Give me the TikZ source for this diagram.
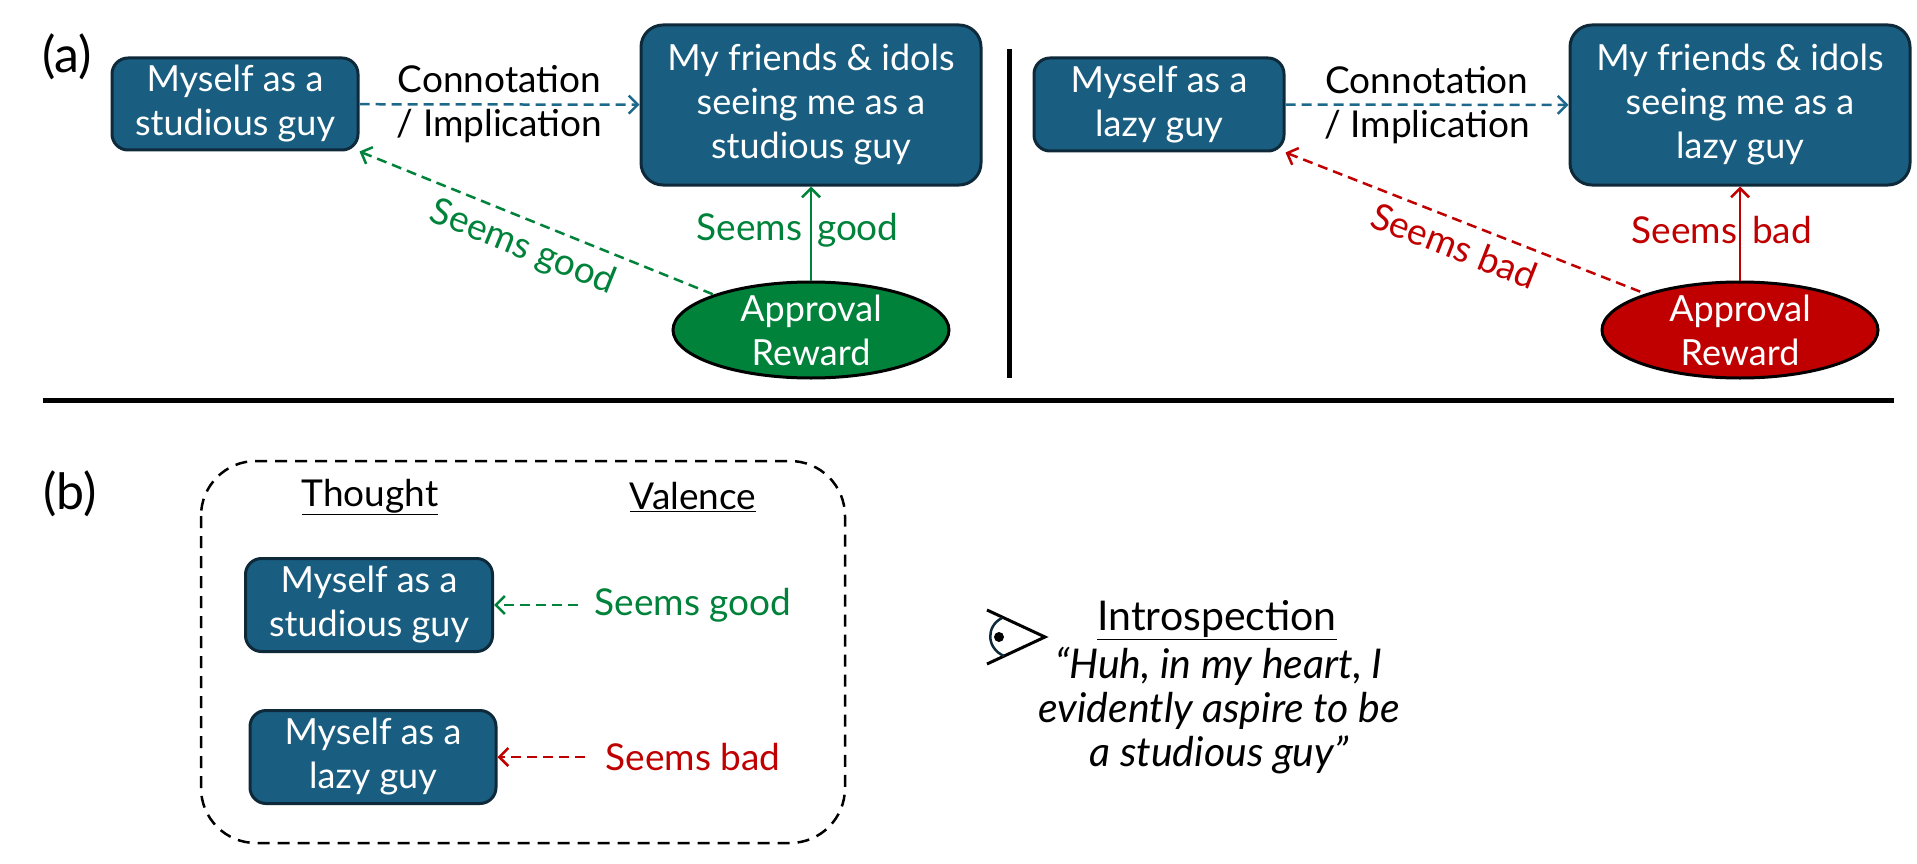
\documentclass[tikz,border=0pt]{standalone}
\usepackage{fontspec}
\setmainfont{Lato}
\usetikzlibrary{shapes.geometric,arrows.meta}

\definecolor{boxblue}{RGB}{25,94,128}
\definecolor{boxedge}{RGB}{14,42,58}
\definecolor{linkblue}{RGB}{30,104,140}
\definecolor{goodgreen}{RGB}{0,130,58}
\definecolor{badred}{RGB}{192,0,0}

\newcommand{\boxfont}{\fontsize{36}{44}\selectfont}
\newcommand{\labelfont}{\fontsize{37}{44}\selectfont}
\newcommand{\quotefont}{\fontsize{41}{44}\selectfont}
\newcommand{\tagfont}{\fontsize{50}{56}\selectfont}

\begin{document}
\begin{tikzpicture}[x=1pt,y=-1pt,
   thought/.style={draw=boxedge,line width=3pt,fill=boxblue,rounded corners=16pt,text=white,align=center,inner sep=0pt,font=\boxfont},
   reward/.style={ellipse,draw=black,line width=3pt,text=white,align=center,inner xsep=0pt,inner ysep=-12pt,minimum width=276pt,minimum height=96pt,font=\boxfont},
   plain/.style={align=center,inner sep=0pt,font=\labelfont},
   barb/.style={-{Straight Barb[length=9pt,width=18pt]}},
   rbarb/.style={{Straight Barb[length=9pt,width=18pt]}-},
   dashlink/.style={line width=2.5pt,dash pattern=on 10pt off 6pt},
   solidlink/.style={line width=2.5pt},
   rule/.style={line width=5pt}]
   \useasboundingbox (0,0) rectangle (1917,864);
   \node (tagA) at (67,57) [plain,font=\tagfont] {(a)};
   \node (myselfA) at (235,104) [thought,minimum width=246pt,minimum height=92pt] {Myself as a\\studious guy};
   \node (friendsA) at (811,105) [thought,minimum width=340pt,minimum height=160pt,rounded corners=22pt] {My friends \& idols\\seeing me as a\\studious guy};
   \node (rewardA) at (811,330) [reward,fill=goodgreen] {Approval\\Reward};
   \draw[dashlink,barb,linkblue] (myselfA) -- node[plain,text=black] {Connotation\\/ Implication} (friendsA);
   \draw[solidlink,barb,goodgreen] (rewardA) -- node[plain,text=goodgreen,yshift=3pt] {\llap{Seems\hspace{9pt}}\rlap{\hspace{6pt}good}} (friendsA);
   \draw[dashlink,rbarb,goodgreen] (myselfA.south east) -- node[plain,text=goodgreen,sloped,below=10pt,pos=.49] {Seems good} (rewardA.160);
   \draw[rule] (1009,49) -- (1009,378);
   \node (myselfB) at (1159,104.5) [thought,minimum width=250pt,minimum height=93pt] {Myself as a\\lazy guy};
   \node (friendsB) at (1740,105) [thought,minimum width=340pt,minimum height=160pt,rounded corners=22pt] {My friends \& idols\\seeing me as a\\lazy guy};
   \node (rewardB) at (1740,330) [reward,fill=badred] {Approval\\Reward};
   \draw[dashlink,barb,linkblue] (myselfB) -- node[plain,text=black] {Connotation\\/ Implication} (friendsB);
   \draw[solidlink,barb,badred] (rewardB) -- node[plain,text=badred,yshift=3pt] {\llap{Seems\hspace{3pt}}\rlap{\hspace{12pt}bad}} (friendsB);
   \draw[dashlink,rbarb,badred] (myselfB.south east) -- node[plain,text=badred,sloped,below=10pt,pos=.495] {Seems bad} (rewardB.159);
   \draw[rule] (43,400) -- (1894,400);
   \node (tagB) at (70,494) [plain,font=\tagfont] {(b)};
   \draw[line width=2.5pt,dash pattern=on 12pt off 8pt,rounded corners=55pt] (201,461) rectangle (845,843);
   \node (thoughtHead) at (370,497) [plain] {\underline{Thought}};
   \node (valenceHead) at (693,497) [plain] {\underline{Valence}};
   \node (myselfGood) at (369,605) [thought,minimum width=247pt,minimum height=93pt] {Myself as a\\studious guy};
   \node (myselfBad) at (373,757) [thought,minimum width=246pt,minimum height=93pt] {Myself as a\\lazy guy};
   \node (good) at (693,605) [plain,text=goodgreen] {Seems good};
   \node (bad) at (693,757) [plain,text=badred] {Seems bad};
   \draw[dashlink,barb,goodgreen,shorten <=17pt] (good) -- (myselfGood);
   \draw[dashlink,barb,badred,shorten <=20pt] (bad) -- (myselfBad);
   \draw[line width=3pt] (987,610) -- (1045,637) -- (987,664);
   \draw[line width=2.5pt,boxedge] (1002,618) .. controls (986,626) and (986,648) .. (1004,656);
   \fill (999,637) circle (5pt);
   \node (intro) at (1217,620) [plain,font=\quotefont] {\underline{Introspection}};
   \node (quote) at (1219,711) [plain,font=\quotefont\itshape] {“Huh, in my heart, I\\evidently aspire to be\\a studious guy”};
\end{tikzpicture}
\end{document}
